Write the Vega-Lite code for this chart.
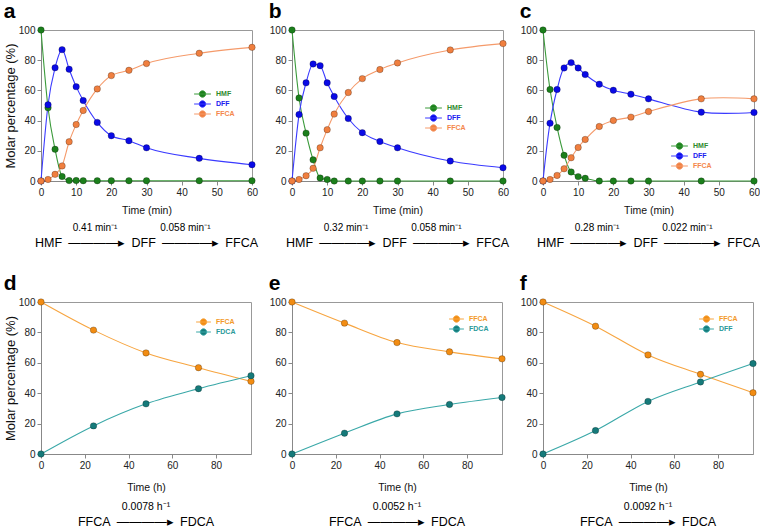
{
  "$schema": "https://vega.github.io/schema/vega-lite/v6.json",
  "background": "white",
  "padding": {"left": 3, "top": 0, "right": 0, "bottom": 0},
  "datasets": {
    "a": [
      {"t":0,"s":"HMF","v":100},{"t":2,"s":"HMF","v":48.5},{"t":4,"s":"HMF","v":21},{"t":6,"s":"HMF","v":3},{"t":8,"s":"HMF","v":0.3},{"t":10,"s":"HMF","v":0.3},{"t":12,"s":"HMF","v":0.2},{"t":16,"s":"HMF","v":0.2},{"t":20,"s":"HMF","v":0.2},{"t":25,"s":"HMF","v":0.2},{"t":30,"s":"HMF","v":0.2},{"t":45,"s":"HMF","v":0.2},{"t":60,"s":"HMF","v":0.2},
      {"t":0,"s":"DFF","v":0},{"t":2,"s":"DFF","v":50.5},{"t":4,"s":"DFF","v":75},{"t":6,"s":"DFF","v":87},{"t":8,"s":"DFF","v":74},{"t":10,"s":"DFF","v":62.5},{"t":12,"s":"DFF","v":53.3},{"t":16,"s":"DFF","v":38.8},{"t":20,"s":"DFF","v":30},{"t":25,"s":"DFF","v":26.7},{"t":30,"s":"DFF","v":22},{"t":45,"s":"DFF","v":15},{"t":60,"s":"DFF","v":10.8},
      {"t":0,"s":"FFCA","v":0},{"t":2,"s":"FFCA","v":1},{"t":4,"s":"FFCA","v":4.4},{"t":6,"s":"FFCA","v":10},{"t":8,"s":"FFCA","v":26},{"t":10,"s":"FFCA","v":37.4},{"t":12,"s":"FFCA","v":46.7},{"t":16,"s":"FFCA","v":61},{"t":20,"s":"FFCA","v":69.8},{"t":25,"s":"FFCA","v":73.3},{"t":30,"s":"FFCA","v":77.8},{"t":45,"s":"FFCA","v":84.6},{"t":60,"s":"FFCA","v":88.5}
    ],
    "b": [
      {"t":0,"s":"HMF","v":100},{"t":2,"s":"HMF","v":55},{"t":4,"s":"HMF","v":31.7},{"t":6,"s":"HMF","v":14},{"t":8,"s":"HMF","v":2},{"t":10,"s":"HMF","v":1},{"t":12,"s":"HMF","v":0},{"t":16,"s":"HMF","v":0},{"t":20,"s":"HMF","v":0},{"t":25,"s":"HMF","v":0},{"t":30,"s":"HMF","v":0},{"t":45,"s":"HMF","v":0},{"t":60,"s":"HMF","v":0},
      {"t":0,"s":"DFF","v":0},{"t":2,"s":"DFF","v":44},{"t":4,"s":"DFF","v":65},{"t":6,"s":"DFF","v":77.5},{"t":8,"s":"DFF","v":76.4},{"t":10,"s":"DFF","v":65},{"t":12,"s":"DFF","v":56},{"t":16,"s":"DFF","v":41.4},{"t":20,"s":"DFF","v":32},{"t":25,"s":"DFF","v":26.2},{"t":30,"s":"DFF","v":22},{"t":45,"s":"DFF","v":13.2},{"t":60,"s":"DFF","v":8.8},
      {"t":0,"s":"FFCA","v":0},{"t":2,"s":"FFCA","v":1},{"t":4,"s":"FFCA","v":3.5},{"t":6,"s":"FFCA","v":8.4},{"t":8,"s":"FFCA","v":22},{"t":10,"s":"FFCA","v":34},{"t":12,"s":"FFCA","v":44.3},{"t":16,"s":"FFCA","v":58.6},{"t":20,"s":"FFCA","v":67.8},{"t":25,"s":"FFCA","v":73.8},{"t":30,"s":"FFCA","v":78.2},{"t":45,"s":"FFCA","v":86.8},{"t":60,"s":"FFCA","v":91}
    ],
    "c": [
      {"t":0,"s":"HMF","v":100},{"t":2,"s":"HMF","v":60.6},{"t":4,"s":"HMF","v":35.5},{"t":6,"s":"HMF","v":17},{"t":8,"s":"HMF","v":6},{"t":10,"s":"HMF","v":2.9},{"t":12,"s":"HMF","v":1.8},{"t":16,"s":"HMF","v":0},{"t":20,"s":"HMF","v":0},{"t":25,"s":"HMF","v":0},{"t":30,"s":"HMF","v":0},{"t":45,"s":"HMF","v":0},{"t":60,"s":"HMF","v":0},
      {"t":0,"s":"DFF","v":0},{"t":2,"s":"DFF","v":38.3},{"t":4,"s":"DFF","v":60.6},{"t":6,"s":"DFF","v":74.9},{"t":8,"s":"DFF","v":78.4},{"t":10,"s":"DFF","v":74.9},{"t":12,"s":"DFF","v":70.5},{"t":16,"s":"DFF","v":64.1},{"t":20,"s":"DFF","v":60.1},{"t":25,"s":"DFF","v":57.5},{"t":30,"s":"DFF","v":54.4},{"t":45,"s":"DFF","v":45.6},{"t":60,"s":"DFF","v":45.4},
      {"t":0,"s":"FFCA","v":0},{"t":2,"s":"FFCA","v":1},{"t":4,"s":"FFCA","v":3.7},{"t":6,"s":"FFCA","v":8.1},{"t":8,"s":"FFCA","v":15.4},{"t":10,"s":"FFCA","v":22.2},{"t":12,"s":"FFCA","v":27.5},{"t":16,"s":"FFCA","v":36.1},{"t":20,"s":"FFCA","v":40.1},{"t":25,"s":"FFCA","v":42.3},{"t":30,"s":"FFCA","v":46},{"t":45,"s":"FFCA","v":54.4},{"t":60,"s":"FFCA","v":54.4}
    ],
    "d": [
      {"t":0,"s":"FFCA","v":100},{"t":24,"s":"FFCA","v":81.5},{"t":48,"s":"FFCA","v":66.5},{"t":72,"s":"FFCA","v":56.8},{"t":96,"s":"FFCA","v":47.8},
      {"t":0,"s":"FDCA","v":0},{"t":24,"s":"FDCA","v":18.5},{"t":48,"s":"FDCA","v":33},{"t":72,"s":"FDCA","v":43},{"t":96,"s":"FDCA","v":51.5}
    ],
    "e": [
      {"t":0,"s":"FFCA","v":100},{"t":24,"s":"FFCA","v":86.1},{"t":48,"s":"FFCA","v":73.3},{"t":72,"s":"FFCA","v":67.2},{"t":96,"s":"FFCA","v":62.6},
      {"t":0,"s":"FDCA","v":0},{"t":24,"s":"FDCA","v":13.7},{"t":48,"s":"FDCA","v":26.4},{"t":72,"s":"FDCA","v":32.6},{"t":96,"s":"FDCA","v":37.2}
    ],
    "f": [
      {"t":0,"s":"FFCA","v":100},{"t":24,"s":"FFCA","v":84.1},{"t":48,"s":"FFCA","v":65.2},{"t":72,"s":"FFCA","v":52.4},{"t":96,"s":"FFCA","v":40.3},
      {"t":0,"s":"DFF","v":0},{"t":24,"s":"DFF","v":15.4},{"t":48,"s":"DFF","v":34.6},{"t":72,"s":"DFF","v":47.4},{"t":96,"s":"DFF","v":59.5}
    ]
  },
  "vconcat": [
    {
      "spacing": 9,
      "resolve": {"scale": {"color": "independent", "fill": "independent"}, "legend": {"color": "independent", "fill": "independent"}},
      "hconcat": [
        {
          "title": {"text": "a", "anchor": "start", "font": "Liberation Sans", "fontSize": 21, "fontWeight": "bold", "color": "#000", "offset": 3},
          "resolve": {"scale": {"color": "independent", "fill": "independent"}, "legend": {"color": "independent", "fill": "independent"}},
          "vconcat": [{
            "width": 211, "height": 151,
            "data": {"name": "a"},
            "title": {"text": "0.41 min\u207b\u00b9\u2003\u2003\u2003\u2003\u00a00.058 min\u207b\u00b9\u00a0\u2800", "subtitle": "HMF\u2002\u2014\u2014\u2014\u2014\u25b8\u2002DFF\u2002\u2014\u2014\u2014\u2014\u25b8\u2002FFCA", "orient": "bottom", "anchor": "middle", "frame": "group", "offset": 7, "subtitlePadding": 4, "font": "Liberation Sans", "fontSize": 10, "fontWeight": "normal", "color": "#000", "subtitleFont": "Liberation Sans", "subtitleFontSize": 12.5, "subtitleColor": "#000"},
            "encoding": {
              "x": {"field": "t", "type": "quantitative", "scale": {"domain": [0, 60], "nice": false}, "axis": {"values": [0,10,20,30,40,50,60], "title": "Time (min)", "titlePadding": 8}},
              "y": {"field": "v", "type": "quantitative", "scale": {"domain": [0, 100], "nice": false}, "axis": {"values": [0,20,40,60,80,100], "title": "Molar percentage (%)"}}
            },
            "layer": [
              {"mark": {"type": "line", "interpolate": "monotone", "strokeWidth": 1.1},
               "encoding": {"color": {"field": "s", "type": "nominal", "scale": {"domain": ["HMF","DFF","FFCA"], "range": ["#3a9a3a","#3a3aff","#f59a6a"]},
                 "legend": {"orient": "none", "legendX": 157, "legendY": 59.5, "title": null, "symbolType": "M-2.1,0H2.1M-0.8,0A0.8,0.8,0,1,1,0.8,0A0.8,0.8,0,1,1,-0.8,0Z", "symbolSize": 64, "labelFontSize": 7, "labelFontWeight": "bold", "labelFont": "Liberation Sans", "labelOffset": 9, "rowPadding": -1.5,
                   "encode": {"labels": {"update": {"fill": {"signal": "datum.label == 'HMF' ? '#2e8b2e' : datum.label == 'DFF' ? '#2020f0' : '#f4874b'"}}},
                              "symbols": {"update": {"fill": {"signal": "datum.label == 'HMF' ? '#1b7f1b' : datum.label == 'DFF' ? '#0a0ae6' : '#f07f3f'"}, "stroke": {"signal": "datum.label == 'HMF' ? '#3a9a3a' : datum.label == 'DFF' ? '#3a3aff' : '#f59a6a'"}, "strokeWidth": {"value": 1}, "opacity": {"value": 1}}}}}}}},
              {"mark": {"type": "point", "filled": true, "size": 42, "opacity": 1, "stroke": "#000", "strokeOpacity": 0.35, "strokeWidth": 0.7},
               "encoding": {"fill": {"field": "s", "type": "nominal", "scale": {"domain": ["HMF","DFF","FFCA"], "range": ["#1b7f1b","#0a0ae6","#f07f3f"]}, "legend": null}}}
            ]
          }]
        },
        {
          "title": {"text": "b", "anchor": "start", "font": "Liberation Sans", "fontSize": 21, "fontWeight": "bold", "color": "#000", "offset": 3},
          "resolve": {"scale": {"color": "independent", "fill": "independent"}, "legend": {"color": "independent", "fill": "independent"}},
          "vconcat": [{
            "width": 211, "height": 151,
            "data": {"name": "b"},
            "title": {"text": "0.32 min\u207b\u00b9\u2003\u2003\u2003\u2003\u00a00.058 min\u207b\u00b9\u00a0\u2800", "subtitle": "HMF\u2002\u2014\u2014\u2014\u2014\u25b8\u2002DFF\u2002\u2014\u2014\u2014\u2014\u25b8\u2002FFCA", "orient": "bottom", "anchor": "middle", "frame": "group", "offset": 7, "subtitlePadding": 4, "font": "Liberation Sans", "fontSize": 10, "fontWeight": "normal", "color": "#000", "subtitleFont": "Liberation Sans", "subtitleFontSize": 12.5, "subtitleColor": "#000"},
            "encoding": {
              "x": {"field": "t", "type": "quantitative", "scale": {"domain": [0, 60], "nice": false}, "axis": {"values": [0,10,20,30,40,50,60], "title": "Time (min)", "titlePadding": 8}},
              "y": {"field": "v", "type": "quantitative", "scale": {"domain": [0, 100], "nice": false}, "axis": {"values": [0,20,40,60,80,100], "title": null}}
            },
            "layer": [
              {"mark": {"type": "line", "interpolate": "monotone", "strokeWidth": 1.1},
               "encoding": {"color": {"field": "s", "type": "nominal", "scale": {"domain": ["HMF","DFF","FFCA"], "range": ["#3a9a3a","#3a3aff","#f59a6a"]},
                 "legend": {"orient": "none", "legendX": 137, "legendY": 73.5, "title": null, "symbolType": "M-2.1,0H2.1M-0.8,0A0.8,0.8,0,1,1,0.8,0A0.8,0.8,0,1,1,-0.8,0Z", "symbolSize": 64, "labelFontSize": 7, "labelFontWeight": "bold", "labelFont": "Liberation Sans", "labelOffset": 9, "rowPadding": -1.8,
                   "encode": {"labels": {"update": {"fill": {"signal": "datum.label == 'HMF' ? '#2e8b2e' : datum.label == 'DFF' ? '#2020f0' : '#f4874b'"}}},
                              "symbols": {"update": {"fill": {"signal": "datum.label == 'HMF' ? '#1b7f1b' : datum.label == 'DFF' ? '#0a0ae6' : '#f07f3f'"}, "stroke": {"signal": "datum.label == 'HMF' ? '#3a9a3a' : datum.label == 'DFF' ? '#3a3aff' : '#f59a6a'"}, "strokeWidth": {"value": 1}, "opacity": {"value": 1}}}}}}}},
              {"mark": {"type": "point", "filled": true, "size": 42, "opacity": 1, "stroke": "#000", "strokeOpacity": 0.35, "strokeWidth": 0.7},
               "encoding": {"fill": {"field": "s", "type": "nominal", "scale": {"domain": ["HMF","DFF","FFCA"], "range": ["#1b7f1b","#0a0ae6","#f07f3f"]}, "legend": null}}}
            ]
          }]
        },
        {
          "title": {"text": "c", "anchor": "start", "font": "Liberation Sans", "fontSize": 21, "fontWeight": "bold", "color": "#000", "offset": 3},
          "resolve": {"scale": {"color": "independent", "fill": "independent"}, "legend": {"color": "independent", "fill": "independent"}},
          "vconcat": [{
            "width": 211, "height": 151,
            "data": {"name": "c"},
            "title": {"text": "0.28 min\u207b\u00b9\u2003\u2003\u2003\u2003\u00a00.022 min\u207b\u00b9\u00a0\u2800", "subtitle": "HMF\u2002\u2014\u2014\u2014\u2014\u25b8\u2002DFF\u2002\u2014\u2014\u2014\u2014\u25b8\u2002FFCA", "orient": "bottom", "anchor": "middle", "frame": "group", "offset": 7, "subtitlePadding": 4, "font": "Liberation Sans", "fontSize": 10, "fontWeight": "normal", "color": "#000", "subtitleFont": "Liberation Sans", "subtitleFontSize": 12.5, "subtitleColor": "#000"},
            "encoding": {
              "x": {"field": "t", "type": "quantitative", "scale": {"domain": [0, 60], "nice": false}, "axis": {"values": [0,10,20,30,40,50,60], "title": "Time (min)", "titlePadding": 8}},
              "y": {"field": "v", "type": "quantitative", "scale": {"domain": [0, 100], "nice": false}, "axis": {"values": [0,20,40,60,80,100], "title": null}}
            },
            "layer": [
              {"mark": {"type": "line", "interpolate": "catmull-rom", "strokeWidth": 1.1},
               "encoding": {"color": {"field": "s", "type": "nominal", "scale": {"domain": ["HMF","DFF","FFCA"], "range": ["#3a9a3a","#3a3aff","#f59a6a"]},
                 "legend": {"orient": "none", "legendX": 132, "legendY": 111.5, "title": null, "symbolType": "M-2.1,0H2.1M-0.8,0A0.8,0.8,0,1,1,0.8,0A0.8,0.8,0,1,1,-0.8,0Z", "symbolSize": 64, "labelFontSize": 7, "labelFontWeight": "bold", "labelFont": "Liberation Sans", "labelOffset": 9, "rowPadding": -2,
                   "encode": {"labels": {"update": {"fill": {"signal": "datum.label == 'HMF' ? '#2e8b2e' : datum.label == 'DFF' ? '#2020f0' : '#f4874b'"}}},
                              "symbols": {"update": {"fill": {"signal": "datum.label == 'HMF' ? '#1b7f1b' : datum.label == 'DFF' ? '#0a0ae6' : '#f07f3f'"}, "stroke": {"signal": "datum.label == 'HMF' ? '#3a9a3a' : datum.label == 'DFF' ? '#3a3aff' : '#f59a6a'"}, "strokeWidth": {"value": 1}, "opacity": {"value": 1}}}}}}}},
              {"mark": {"type": "point", "filled": true, "size": 42, "opacity": 1, "stroke": "#000", "strokeOpacity": 0.35, "strokeWidth": 0.7},
               "encoding": {"fill": {"field": "s", "type": "nominal", "scale": {"domain": ["HMF","DFF","FFCA"], "range": ["#1b7f1b","#0a0ae6","#f07f3f"]}, "legend": null}}}
            ]
          }]
        }
      ]
    },
    {
      "spacing": 11,
      "resolve": {"scale": {"color": "independent", "fill": "independent"}, "legend": {"color": "independent", "fill": "independent"}},
      "hconcat": [
        {
          "title": {"text": "d", "anchor": "start", "font": "Liberation Sans", "fontSize": 21, "fontWeight": "bold", "color": "#000", "offset": 3},
          "resolve": {"scale": {"color": "independent", "fill": "independent"}, "legend": {"color": "independent", "fill": "independent"}},
          "vconcat": [{
            "width": 210, "height": 152,
            "data": {"name": "d"},
            "title": {"text": "0.0078 h\u207b\u00b9", "subtitle": "FFCA\u2002\u2014\u2014\u2014\u2014\u25b8\u2002FDCA", "orient": "bottom", "anchor": "middle", "frame": "group", "offset": 9, "subtitlePadding": 4, "font": "Liberation Sans", "fontSize": 10.5, "fontWeight": "normal", "color": "#000", "subtitleFont": "Liberation Sans", "subtitleFontSize": 12.5, "subtitleColor": "#000"},
            "encoding": {
              "x": {"field": "t", "type": "quantitative", "scale": {"domain": [0, 96], "nice": false}, "axis": {"values": [0,20,40,60,80], "title": "Time (h)", "titlePadding": 12}},
              "y": {"field": "v", "type": "quantitative", "scale": {"domain": [0, 100], "nice": false}, "axis": {"values": [0,20,40,60,80,100], "title": "Molar percentage (%)"}}
            },
            "layer": [
              {"mark": {"type": "line", "interpolate": "monotone", "strokeWidth": 1.1},
               "encoding": {"color": {"field": "s", "type": "nominal", "scale": {"domain": ["FFCA","FDCA"], "range": ["#f7a540","#3aa8a8"]},
                 "legend": {"orient": "none", "legendX": 158, "legendY": 15.5, "title": null, "symbolType": "M-1.85,0H1.85M-0.8,0A0.8,0.8,0,1,1,0.8,0A0.8,0.8,0,1,1,-0.8,0Z", "symbolSize": 64, "labelFontSize": 7, "labelFontWeight": "bold", "labelFont": "Liberation Sans", "labelOffset": 8, "rowPadding": -2,
                   "encode": {"labels": {"update": {"fill": {"signal": "datum.label == 'FFCA' ? '#f39a2a' : '#2a9a9a'"}}},
                              "symbols": {"update": {"fill": {"signal": "datum.label == 'FFCA' ? '#f28c12' : '#157a7a'"}, "stroke": {"signal": "datum.label == 'FFCA' ? '#f7a540' : '#3aa8a8'"}, "strokeWidth": {"value": 1}, "opacity": {"value": 1}}}}}}}},
              {"mark": {"type": "point", "filled": true, "size": 42, "opacity": 1, "stroke": "#000", "strokeOpacity": 0.35, "strokeWidth": 0.7},
               "encoding": {"fill": {"field": "s", "type": "nominal", "scale": {"domain": ["FFCA","FDCA"], "range": ["#f28c12","#157a7a"]}, "legend": null}}}
            ]
          }]
        },
        {
          "title": {"text": "e", "anchor": "start", "font": "Liberation Sans", "fontSize": 21, "fontWeight": "bold", "color": "#000", "offset": 3},
          "resolve": {"scale": {"color": "independent", "fill": "independent"}, "legend": {"color": "independent", "fill": "independent"}},
          "vconcat": [{
            "width": 210, "height": 152,
            "data": {"name": "e"},
            "title": {"text": "0.0052 h\u207b\u00b9", "subtitle": "FFCA\u2002\u2014\u2014\u2014\u2014\u25b8\u2002FDCA", "orient": "bottom", "anchor": "middle", "frame": "group", "offset": 9, "subtitlePadding": 4, "font": "Liberation Sans", "fontSize": 10.5, "fontWeight": "normal", "color": "#000", "subtitleFont": "Liberation Sans", "subtitleFontSize": 12.5, "subtitleColor": "#000"},
            "encoding": {
              "x": {"field": "t", "type": "quantitative", "scale": {"domain": [0, 96], "nice": false}, "axis": {"values": [0,20,40,60,80], "title": "Time (h)", "titlePadding": 12}},
              "y": {"field": "v", "type": "quantitative", "scale": {"domain": [0, 100], "nice": false}, "axis": {"values": [0,20,40,60,80,100], "title": null}}
            },
            "layer": [
              {"mark": {"type": "line", "interpolate": "monotone", "strokeWidth": 1.1},
               "encoding": {"color": {"field": "s", "type": "nominal", "scale": {"domain": ["FFCA","FDCA"], "range": ["#f7a540","#3aa8a8"]},
                 "legend": {"orient": "none", "legendX": 160, "legendY": 12.5, "title": null, "symbolType": "M-1.85,0H1.85M-0.8,0A0.8,0.8,0,1,1,0.8,0A0.8,0.8,0,1,1,-0.8,0Z", "symbolSize": 64, "labelFontSize": 7, "labelFontWeight": "bold", "labelFont": "Liberation Sans", "labelOffset": 8, "rowPadding": -1.5,
                   "encode": {"labels": {"update": {"fill": {"signal": "datum.label == 'FFCA' ? '#f39a2a' : '#2a9a9a'"}}},
                              "symbols": {"update": {"fill": {"signal": "datum.label == 'FFCA' ? '#f28c12' : '#157a7a'"}, "stroke": {"signal": "datum.label == 'FFCA' ? '#f7a540' : '#3aa8a8'"}, "strokeWidth": {"value": 1}, "opacity": {"value": 1}}}}}}}},
              {"mark": {"type": "point", "filled": true, "size": 42, "opacity": 1, "stroke": "#000", "strokeOpacity": 0.35, "strokeWidth": 0.7},
               "encoding": {"fill": {"field": "s", "type": "nominal", "scale": {"domain": ["FFCA","FDCA"], "range": ["#f28c12","#157a7a"]}, "legend": null}}}
            ]
          }]
        },
        {
          "title": {"text": "f", "anchor": "start", "font": "Liberation Sans", "fontSize": 21, "fontWeight": "bold", "color": "#000", "offset": 3},
          "resolve": {"scale": {"color": "independent", "fill": "independent"}, "legend": {"color": "independent", "fill": "independent"}},
          "vconcat": [{
            "width": 210, "height": 152,
            "data": {"name": "f"},
            "title": {"text": "0.0092 h\u207b\u00b9", "subtitle": "FFCA\u2002\u2014\u2014\u2014\u2014\u25b8\u2002FDCA", "orient": "bottom", "anchor": "middle", "frame": "group", "offset": 9, "subtitlePadding": 4, "font": "Liberation Sans", "fontSize": 10.5, "fontWeight": "normal", "color": "#000", "subtitleFont": "Liberation Sans", "subtitleFontSize": 12.5, "subtitleColor": "#000"},
            "encoding": {
              "x": {"field": "t", "type": "quantitative", "scale": {"domain": [0, 96], "nice": false}, "axis": {"values": [0,20,40,60,80], "title": "Time (h)", "titlePadding": 12}},
              "y": {"field": "v", "type": "quantitative", "scale": {"domain": [0, 100], "nice": false}, "axis": {"values": [0,20,40,60,80,100], "title": null}}
            },
            "layer": [
              {"mark": {"type": "line", "interpolate": "monotone", "strokeWidth": 1.1},
               "encoding": {"color": {"field": "s", "type": "nominal", "scale": {"domain": ["FFCA","DFF"], "range": ["#f7a540","#3aa8a8"]},
                 "legend": {"orient": "none", "legendX": 159, "legendY": 12.5, "title": null, "symbolType": "M-1.85,0H1.85M-0.8,0A0.8,0.8,0,1,1,0.8,0A0.8,0.8,0,1,1,-0.8,0Z", "symbolSize": 64, "labelFontSize": 7, "labelFontWeight": "bold", "labelFont": "Liberation Sans", "labelOffset": 8, "rowPadding": -1.5,
                   "encode": {"labels": {"update": {"fill": {"signal": "datum.label == 'FFCA' ? '#f39a2a' : '#2a9a9a'"}}},
                              "symbols": {"update": {"fill": {"signal": "datum.label == 'FFCA' ? '#f28c12' : '#157a7a'"}, "stroke": {"signal": "datum.label == 'FFCA' ? '#f7a540' : '#3aa8a8'"}, "strokeWidth": {"value": 1}, "opacity": {"value": 1}}}}}}}},
              {"mark": {"type": "point", "filled": true, "size": 42, "opacity": 1, "stroke": "#000", "strokeOpacity": 0.35, "strokeWidth": 0.7},
               "encoding": {"fill": {"field": "s", "type": "nominal", "scale": {"domain": ["FFCA","DFF"], "range": ["#f28c12","#157a7a"]}, "legend": null}}}
            ]
          }]
        }
      ]
    }
  ],
  "spacing": 22,
  "resolve": {"scale": {"color": "independent", "fill": "independent"}, "legend": {"color": "independent", "fill": "independent"}},
  "config": {
    "view": {"stroke": "#999", "strokeWidth": 1},
    "axis": {"grid": false, "domainColor": "#888", "tickColor": "#888", "tickSize": 4, "labelFont": "Liberation Sans", "labelFontSize": 10, "labelColor": "#222", "titleFont": "Liberation Sans", "titleFontWeight": "normal", "titleColor": "#111", "titleFontSize": 10.5, "labelPadding": 2, "labelFlush": false},
    "axisY": {"titleFontSize": 13, "titlePadding": 1}
  }
}
